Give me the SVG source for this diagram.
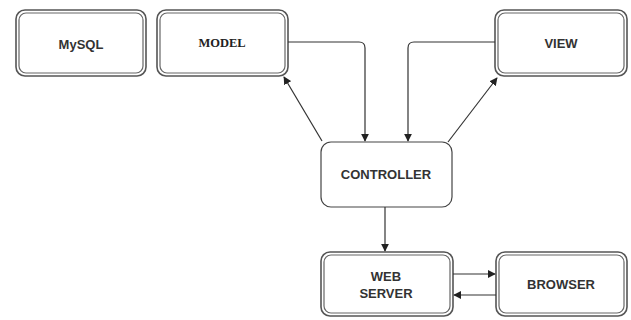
<svg xmlns="http://www.w3.org/2000/svg" width="631" height="320" viewBox="0 0 631 320">
<style>
.o{fill:#fff;stroke:#555;stroke-width:1.6}
.i{fill:#fff;stroke:#666;stroke-width:1.2}
.s{fill:#fff;stroke:#444;stroke-width:1.2}
.t{font-family:"Liberation Sans",Arial,sans-serif;font-weight:bold;font-size:13px;fill:#333;text-anchor:middle}
.tm{font-family:"Liberation Serif","Times New Roman",serif;font-weight:bold;font-size:12.5px;fill:#222;text-anchor:middle}
.c{fill:none;stroke:#333;stroke-width:1.2}
</style>
<defs>
<marker id="a" viewBox="0 0 10 10" refX="9" refY="5" markerWidth="8" markerHeight="8" markerUnits="userSpaceOnUse" orient="auto">
<path d="M0,0 L10,5 L0,10 z" fill="#222"/>
</marker>
</defs>
<rect width="631" height="320" fill="#fff"/>
<g id="mysql">
<rect class="o" x="16" y="10" width="130" height="66" rx="9"/>
<rect class="i" x="19" y="13" width="124" height="60" rx="7"/>
<text class="t" x="81" y="49" font-size="12">MySQL</text>
</g>
<g id="model">
<rect class="o" x="157" y="10" width="131" height="66" rx="9"/>
<rect class="i" x="160" y="13" width="125" height="60" rx="7"/>
<text class="tm" x="222" y="47">MODEL</text>
</g>
<g id="view">
<rect class="o" x="495" y="10" width="132" height="66" rx="9"/>
<rect class="i" x="498" y="13" width="126" height="60" rx="7"/>
<text class="t" x="561" y="48">VIEW</text>
</g>
<g id="controller">
<rect class="s" x="321" y="142" width="131" height="65" rx="10"/>
<text class="t" x="386" y="179">CONTROLLER</text>
</g>
<g id="webserver">
<rect class="o" x="321" y="252" width="132" height="64" rx="9"/>
<rect class="i" x="324" y="255" width="126" height="58" rx="7"/>
<text class="t" x="386" y="281">WEB</text>
<text class="t" x="386" y="298">SERVER</text>
</g>
<g id="browser">
<rect class="o" x="496" y="252" width="131" height="64" rx="9"/>
<rect class="i" x="499" y="255" width="125" height="58" rx="7"/>
<text class="t" x="561" y="289">BROWSER</text>
</g>
<g id="connectors">
<path class="c" d="M288,42 H359 Q365,42 365,48 V141" marker-end="url(#a)"/>
<path class="c" d="M495,42 H414 Q408,42 408,48 V141" marker-end="url(#a)"/>
<path class="c" d="M322,141 L284,77" marker-end="url(#a)"/>
<path class="c" d="M448,142 L497,78" marker-end="url(#a)"/>
<path class="c" d="M385,207 V251" marker-end="url(#a)"/>
<path class="c" d="M453,274 H495" marker-end="url(#a)"/>
<path class="c" d="M496,295 H454" marker-end="url(#a)"/>
</g>
</svg>
